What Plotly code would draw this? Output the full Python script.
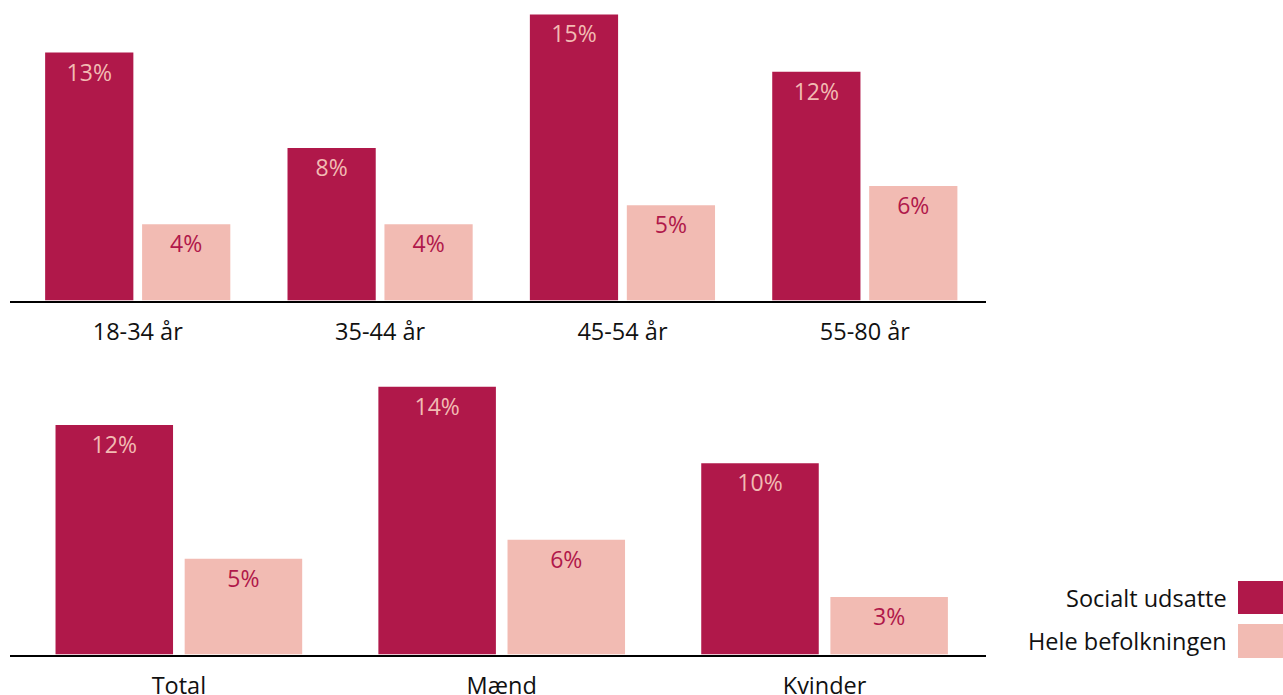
import plotly.graph_objects as go

# Data
series_names = ["Socialt udsatte", "Hele befolkningen"]
age_groups = ["18-34 år", "35-44 år", "45-54 år", "55-80 år"]
age_udsatte = [13, 8, 15, 12]
age_befolkning = [4, 4, 5, 6]
sex_groups = ["Total", "Mænd", "Kvinder"]
sex_udsatte = [12, 14, 10]
sex_befolkning = [5, 6, 3]

DARK = "#B0184A"
LIGHT = "#F2BBB3"
FONT = "Open Sans"
W, H = 1283, 695


def px_x(p):
    return p / W


def px_y(p):
    return (H - p) / H


fig = go.Figure()


def add_pair(cats, dark_vals, light_vals, xa, ya):
    fig.add_trace(go.Bar(
        x=cats, y=dark_vals, name=series_names[0], xaxis=xa, yaxis=ya,
        marker=dict(color=DARK, line=dict(width=0)),
        texttemplate="%{y}%", textposition="inside", insidetextanchor="end",
        textfont=dict(color=LIGHT, size=23, family=FONT),
        showlegend=False, hoverinfo="skip",
    ))
    fig.add_trace(go.Bar(
        x=cats, y=light_vals, name=series_names[1], xaxis=xa, yaxis=ya,
        marker=dict(color=LIGHT, line=dict(width=0)),
        texttemplate="%{y}%", textposition="inside", insidetextanchor="end",
        textfont=dict(color=DARK, size=23, family=FONT),
        showlegend=False, hoverinfo="skip",
    ))


add_pair(age_groups, age_udsatte, age_befolkning, "x", "y")
add_pair(sex_groups, sex_udsatte, sex_befolkning, "x2", "y2")

x_dom = [px_x(10), px_x(986)]
axis_common = dict(
    showline=True, linecolor="#000000", linewidth=2,
    showgrid=False, zeroline=False, ticks="", ticklabelstandoff=9,
    tickfont=dict(size=23.5, family=FONT, color="#111111"),
    automargin=False, fixedrange=True,
)
yaxis_common = dict(visible=False, showgrid=False, zeroline=False,
                    automargin=False, fixedrange=True)

fig.update_layout(
    width=W, height=H,
    margin=dict(l=0, r=0, t=0, b=0, autoexpand=False),
    paper_bgcolor="white", plot_bgcolor="white",
    barmode="group", bargap=0.2, bargroupgap=0.09,
    xaxis=dict(domain=x_dom, anchor="y", range=[-0.527, 3.5], **axis_common),
    yaxis=dict(domain=[px_y(300.5), 1], anchor="x", range=[0, 300.5 / 19.07], **yaxis_common),
    xaxis2=dict(domain=x_dom, anchor="y2", range=[-0.523, 2.5], **axis_common),
    yaxis2=dict(domain=[px_y(654.5), px_y(370)], anchor="x2", range=[0, 284.5 / 19.13], **yaxis_common),
    showlegend=False,
)

# Legend: label text to the left of a colour swatch
legend_rows = [(series_names[0], DARK, 581, 614), (series_names[1], LIGHT, 624, 658)]
for name, color, top, bottom in legend_rows:
    fig.add_shape(type="rect", xref="paper", yref="paper",
                  x0=px_x(1238), x1=px_x(1283), y0=px_y(bottom), y1=px_y(top),
                  fillcolor=color, line=dict(width=0))
    fig.add_annotation(xref="paper", yref="paper", x=px_x(1229), y=px_y((top + bottom) / 2),
                       text=name, showarrow=False, xanchor="right", yanchor="middle",
                       font=dict(size=23.5, family=FONT, color="#111111"))

fig.write_html("out.html")
